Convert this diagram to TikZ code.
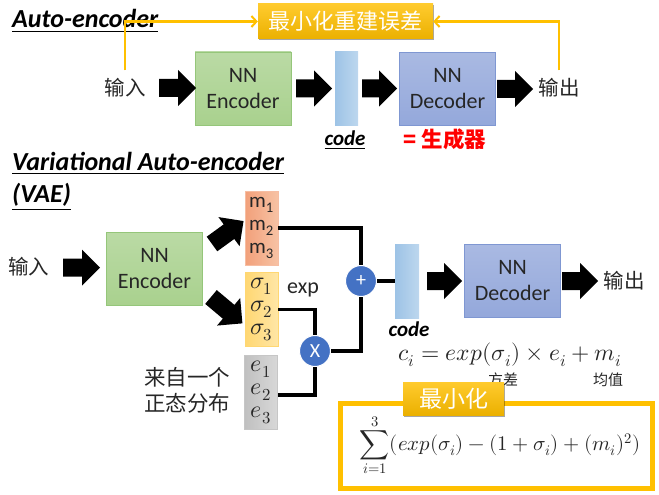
\documentclass[tikz,border=0pt]{standalone}
\usepackage{fontspec}
\usepackage{unicode-math}
\setmainfont{Carlito}
\newfontfamily\cjk{Noto Sans CJK SC}
\usetikzlibrary{shadows,arrows.meta}
\definecolor{gold}{HTML}{FFC000}
\definecolor{goldtop}{HTML}{FFCB2E}
\definecolor{goldbot}{HTML}{EBB000}
\definecolor{encfill}{HTML}{A9D18E}
\definecolor{encdraw}{HTML}{95C67A}
\definecolor{decfill}{HTML}{94A8DB}
\definecolor{decdraw}{HTML}{7F97D2}
\definecolor{codeL}{HTML}{9DC3E6}
\definecolor{codeR}{HTML}{BDD7EE}
\definecolor{mL}{HTML}{F2A07A}
\definecolor{mR}{HTML}{F7C2A4}
\definecolor{sL}{HTML}{FFD772}
\definecolor{sR}{HTML}{FFE6A6}
\definecolor{eL}{HTML}{C0C0C0}
\definecolor{eR}{HTML}{D8D8D8}
\definecolor{circ}{HTML}{4472C4}
\definecolor{txt}{HTML}{262626}
\newcommand{\blockarrow}[4]{%
  \fill[black, shift={(#1,#2)}, rotate=#4] (0,-9) -- ({#3-18},-9) -- ({#3-18},-18) -- (#3,0) -- ({#3-18},18) -- ({#3-18},9) -- (0,9) -- cycle;}
\begin{document}
\begin{tikzpicture}[x=1pt,y=-1pt,
  every node/.style={inner sep=0pt, text=txt},
  cn/.style={font=\cjk\fontsize{20.5}{24}\selectfont},
  ttl/.style={anchor=base west, text=black, font=\bfseries\itshape\fontsize{26}{30}\selectfont},
  nnenc/.style={draw=encdraw, line width=0.8pt, top color=encfill!80!white, bottom color=encfill, minimum width=96pt, minimum height=73pt, align=center, font=\fontsize{22}{26}\selectfont},
  nndec/.style={draw=decdraw, line width=0.8pt, top color=decfill!80!white, bottom color=decfill, minimum width=96pt, minimum height=73pt, align=center, font=\fontsize{22}{26}\selectfont},
  codebar/.style={left color=codeL, right color=codeR, minimum width=23pt, minimum height=73pt},
  codelbl/.style={text=black, font=\bfseries\itshape\fontsize{21}{24}\selectfont},
  goalbox/.style={top color=goldtop, bottom color=goldbot, text=white, font=\cjk\fontsize{22}{26}\selectfont, drop shadow={shadow xshift=1.2pt, shadow yshift=-1.5pt, opacity=0.35, fill=black}},
  goldline/.style={draw=gold, line width=2.5pt},
  wire/.style={draw=black, line width=3.5pt},
  vec/.style={minimum width=33pt, minimum height=74pt, align=center, line width=0.8pt, font=\fontsize{21}{23}\selectfont},
  vecm/.style={vec, font=\fontsize{24}{23}\selectfont},
  opcirc/.style={circle, fill=circ, draw=white, line width=1pt, minimum size=31pt, text=white, font=\fontsize{20}{22}\selectfont}
]
\useasboundingbox (0,0) rectangle (659,495);

% ---------------- Auto-encoder ----------------
\node[ttl] (t1) at (12,28) {\underline{Auto-encoder}};
\node[cn] (in1) at (125,88) {输入};
\node[nnenc] (enc1) at (243,88.5) {NN\\Encoder};
\node[codebar] (code1) at (346.5,88.5) {};
\node[nndec] (dec1) at (447.5,89) {NN\\Decoder};
\node[cn] (out1) at (559,88) {输出};
\node[goalbox, minimum width=175pt, minimum height=35pt] (goal1) at (345.5,21.5) {最小化重建误差};
\node[codelbl] (codelbl1) at (345,140) {\underline{code}};
\node[font=\cjk\bfseries\fontsize{21.5}{24}\selectfont, text=red] (gen) at (445,139) {= 生成器};

\draw[goldline, -{Straight Barb[length=5pt,width=11pt,line width=2pt]}] ([yshift=8pt]in1.north) |- (goal1.west);
\draw[goldline, -{Straight Barb[length=5pt,width=11pt,line width=2pt]}] ([yshift=8pt]out1.north) |- (goal1.east);

\blockarrow{159}{88}{37}{0}
\blockarrow{296}{88.5}{36}{0}
\blockarrow{362}{88.5}{35}{0}
\blockarrow{497}{89}{36}{0}

% ---------------- VAE ----------------
\node[ttl] (t2) at (12,170) {\underline{Variational Auto-encoder}};
\node[ttl] (t3) at (12,202) {\underline{(VAE)}};
\node[cn] (in2) at (29,267) {输入};
\node[nnenc] (enc2) at (154.5,269) {NN\\Encoder};
\node[vec, left color=mL, right color=mR, draw=mL!70!white] (mbox) at (261.5,228) {m\textsubscript{1}\\m\textsubscript{2}\\m\textsubscript{3}};
\node[vecm, left color=sL, right color=sR, draw=sL] (sbox) at (261.5,309.5) {$\sigma_1$\\$\sigma_2$\\$\sigma_3$};
\node[vecm, left color=eL, right color=eR, draw=eL!90!white] (ebox) at (261,392.5) {$e_1$\\$e_2$\\$e_3$};
\node[font=\fontsize{22}{24}\selectfont] (explbl) at (303,290) {exp};
\node[cn, align=center, font=\cjk\fontsize{21.5}{26}\selectfont] (src) at (187,390) {来自一个\\正态分布};

\node[opcirc] (plus) at (361,281) {+};
\node[opcirc] (times) at (315,351) {X};
\node[codebar, minimum width=24pt, minimum height=74pt] (code2) at (407,281) {};
\node[codelbl] (codelbl2) at (409,329) {code};
\node[nndec] (dec2) at (512.5,280.5) {NN\\Decoder};
\node[cn] (out2) at (624,281) {输出};

\draw[wire] (mbox.east) -| (plus.north);
\draw[wire] (plus.east) -- (code2.west);
\draw[wire] (plus.south) |- (times.east);
\draw[wire] (sbox.east) -| (times.north);
\draw[wire] ([yshift=-2.5pt]ebox.east) -| (times.south);

\blockarrow{63}{267.5}{37}{0}
\blockarrow{212}{244}{39}{36}
\blockarrow{211}{297}{41}{-40}
\blockarrow{427}{281}{35}{0}
\blockarrow{562}{281}{36}{0}

\node[font=\fontsize{23.5}{26}\selectfont] (ci) at (510,355) {$c_i = exp(\sigma_i) \times e_i + m_i$};
\node[cn, font=\cjk\fontsize{15}{18}\selectfont] (var) at (503,380) {方差};
\node[cn, font=\cjk\fontsize{15}{18}\selectfont] (mean) at (608,380) {均值};

\node[draw=gold, fill=white, line width=5pt, minimum width=312pt, minimum height=85pt] (frame) at (496.5,446) {};
\node[goalbox, minimum width=101pt, minimum height=33pt, font=\cjk\fontsize{23}{26}\selectfont] (goal2) at (453.5,398.5) {最小化};
\node[font=\fontsize{20.8}{24}\selectfont] (kl) at (500,445) {$\displaystyle\sum_{i=1}^{3}(exp(\sigma_i) - (1+\sigma_i) + (m_i)^2)$};
\end{tikzpicture}
\end{document}
